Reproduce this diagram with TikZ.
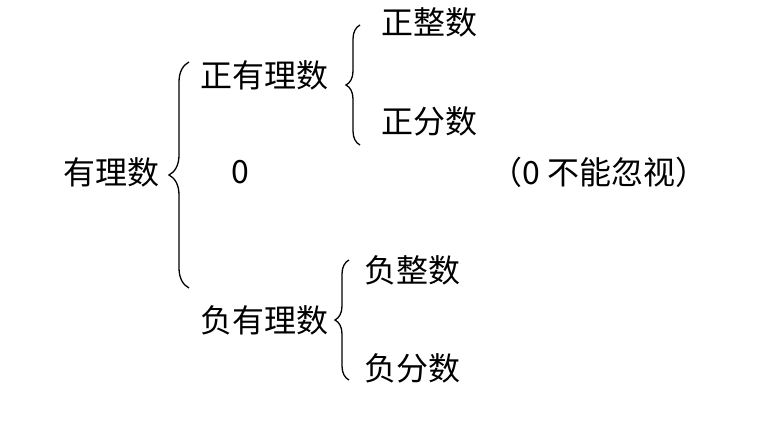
\documentclass[tikz,border=0pt]{standalone}
\usepackage{fontspec}
\newfontfamily\cjk{Noto Sans CJK SC}
\usetikzlibrary{positioning,decorations.pathreplacing}
\tikzset{
  term/.style={font=\cjk\fontsize{32}{34}\selectfont,inner sep=0pt,anchor=west},
  br/.style={decorate,decoration={brace,amplitude=#1},line width=1.3pt},
  br/.default=14
}

\begin{document}
\begin{tikzpicture}[x=1pt,y=-1pt]
\useasboundingbox (0,0) rectangle (784,442);
\node[term] (Q) at (63,172) {有理数};
\node[term] (P) at (200,75) {正有理数};
\node[term] (Z) at (231,172) {0};
\node[term] (N) at (200,320) {负有理数};
\node[term] (PI) at (381,22) {正整数};
\node[term] (PF) at (381,121) {正分数};
\node[term] (NI) at (364,270) {负整数};
\node[term] (NF) at (364,368) {负分数};
\node[term] (note) at (490,172) {（0 不能忽视）};
% brace ends
\coordinate (qt) at (189,62);
\coordinate (qb) at (189,288);
\coordinate (pt) at (360,25);
\coordinate (pb) at (360,145);
\coordinate (nt) at (349,260);
\coordinate (nb) at (349,380);
\draw[br=20] (qb) -- (qt);
\draw[br] (pb) -- (pt);
\draw[br] (nb) -- (nt);
\end{tikzpicture}
\end{document}
